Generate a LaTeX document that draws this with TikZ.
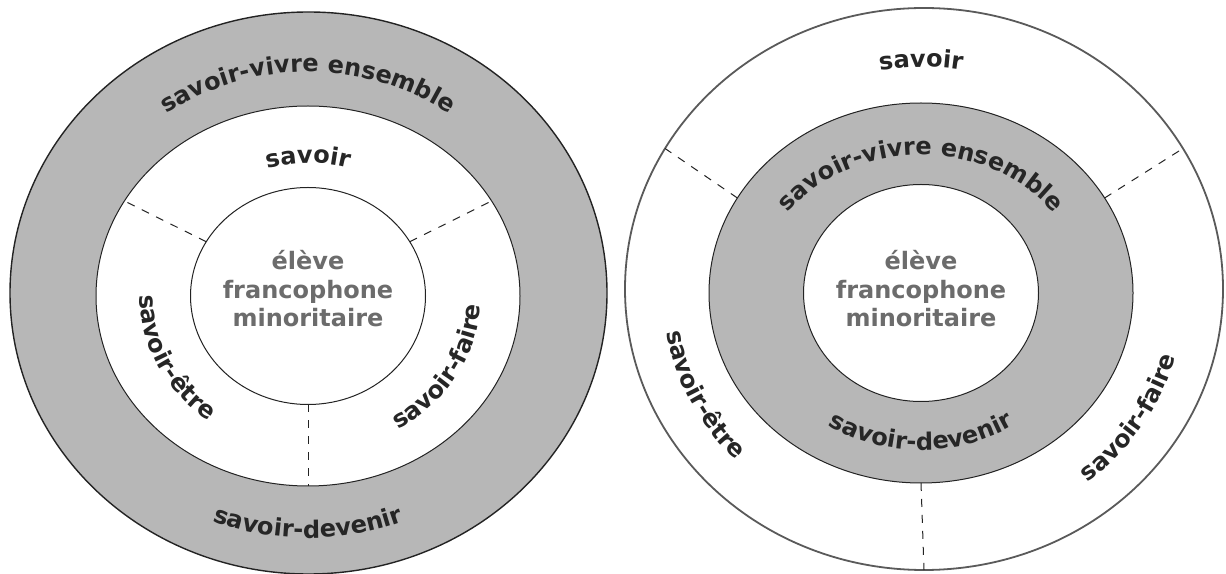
\documentclass[tikz,border=0pt]{standalone}
\usepackage{fontspec}
\setmainfont{DejaVu Sans}
\usetikzlibrary{decorations.text}
\definecolor{ringgray}{RGB}{183,183,183}
\definecolor{txtdark}{RGB}{38,38,38}
\definecolor{txtmid}{RGB}{108,108,108}
\definecolor{linedark}{RGB}{35,35,35}
\definecolor{linegray}{RGB}{90,90,90}
\newcommand\lblfont{\fontsize{24}{28}\selectfont\bfseries\color{txtdark}}
\begin{document}
\begin{tikzpicture}[x=1pt,y=1pt,
  ring/.style={draw=linedark, line width=1pt},
  outerring/.style={draw=linedark, line width=1.4pt},
  divider/.style={draw=linedark, line width=1pt, dash pattern=on 8pt off 8pt},
  centertext/.style={align=center, text=txtmid, font=\fontsize{24}{28.5}\selectfont\bfseries, inner sep=0pt},
  arclabel/.style={decorate, decoration={text along path, text={|\lblfont|#1}, text align=center}}
]
\useasboundingbox (0,0) rectangle (1226,573);
\clip (0,0) rectangle (1226,573);

% ---------------- left diagram ----------------
\coordinate (Lo) at (308.5,280);
\coordinate (L) at (308,277);
\filldraw[fill=ringgray, outerring] (Lo) ellipse [x radius=298.5pt, y radius=281pt];
\filldraw[fill=white, ring] (L) ellipse [x radius=212pt, y radius=190pt];
\filldraw[fill=white, ring] (L) ellipse [x radius=117.5pt, y radius=108.5pt];

\path (L) ++(150:117.5pt and 108.5pt) coordinate (La1);
\path (L) ++(150:212pt and 190pt) coordinate (La2);
\path (L) ++(30:117.5pt and 108.5pt) coordinate (Lb1);
\path (L) ++(30:212pt and 190pt) coordinate (Lb2);
\path (L) ++(270:117.5pt and 108.5pt) coordinate (Lc1);
\path (L) ++(270:212pt and 190pt) coordinate (Lc2);
\draw[divider] (La1) -- (La2);
\draw[divider] (Lb1) -- (Lb2);
\draw[divider] (Lc1) -- (Lc2);

\path[arclabel={savoir-vivre ensemble}] (L) ++(160:243pt and 224pt) arc[start angle=160, end angle=20, x radius=243pt, y radius=224pt];
\path[arclabel={savoir}] (L) ++(120:147pt and 133pt) arc[start angle=120, end angle=60, x radius=147pt, y radius=133pt];
\path[arclabel={savoir-être}] (L) ++(156:168pt and 155pt) arc[start angle=156, end angle=256, x radius=168pt, y radius=155pt];
\path[arclabel={savoir-faire}] (L) ++(280:173pt and 157pt) arc[start angle=280, end angle=380, x radius=173pt, y radius=157pt];
\path[arclabel={savoir-devenir}] (L) ++(230:262pt and 242pt) arc[start angle=230, end angle=310, x radius=262pt, y radius=242pt];

\node[centertext] (Lcenter) at (308,284) {élève\\francophone\\minoritaire};

% ---------------- right diagram ----------------
\coordinate (Ro) at (924,284);
\coordinate (R) at (921,280);
\filldraw[fill=white, draw=linegray, line width=1.8pt] (Ro) ellipse [x radius=299pt, y radius=281pt];
\filldraw[fill=ringgray, ring] (R) ellipse [x radius=212pt, y radius=190pt];
\filldraw[fill=white, ring] (R) ellipse [x radius=117.5pt, y radius=108.5pt];

\path (R) ++(150:212pt and 190pt) coordinate (Ra1);
\path (Ro) ++(150:299pt and 281pt) coordinate (Ra2);
\path (R) ++(30:212pt and 190pt) coordinate (Rb1);
\path (Ro) ++(30:299pt and 281pt) coordinate (Rb2);
\path (R) ++(270:212pt and 190pt) coordinate (Rc1);
\path (Ro) ++(270:299pt and 281pt) coordinate (Rc2);
\draw[divider] (Ra1) -- (Ra2);
\draw[divider] (Rb1) -- (Rb2);
\draw[divider] (Rc1) -- (Rc2);

\path[arclabel={savoir}] (R) ++(120:245pt and 226pt) arc[start angle=120, end angle=60, x radius=245pt, y radius=226pt];
\path[arclabel={savoir-vivre ensemble}] (R) ++(168:163pt and 138pt) arc[start angle=168, end angle=12, x radius=163pt, y radius=138pt];
\path[arclabel={savoir-être}] (R) ++(156:258pt and 240pt) arc[start angle=156, end angle=256, x radius=258pt, y radius=240pt];
\path[arclabel={savoir-faire}] (R) ++(278:264pt and 244pt) arc[start angle=278, end angle=378, x radius=264pt, y radius=244pt];
\path[arclabel={savoir-devenir}] (R) ++(220:173pt and 157pt) arc[start angle=220, end angle=320, x radius=173pt, y radius=157pt];

\node[centertext] (Rcenter) at (921,284) {élève\\francophone\\minoritaire};
\end{tikzpicture}
\end{document}
